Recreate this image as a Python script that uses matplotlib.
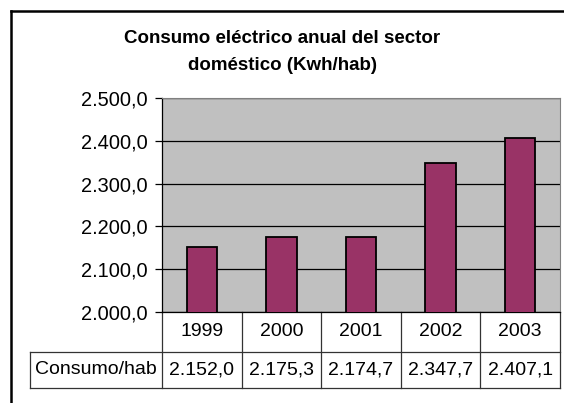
import matplotlib
matplotlib.use("Agg")
import matplotlib.pyplot as plt
from matplotlib.lines import Line2D
from matplotlib.ticker import FuncFormatter, MultipleLocator
from matplotlib.transforms import blended_transform_factory

plt.rcParams['font.family'] = ['Liberation Sans', 'DejaVu Sans']

years = ['1999', '2000', '2001', '2002', '2003']
consumo = [2152.0, 2175.3, 2174.7, 2347.7, 2407.1]
row_label = 'Consumo/hab'
title = 'Consumo eléctrico anual del sector\ndoméstico (Kwh/hab)'


def es_num(v, pos=None):
    # 2152.0 -> "2.152,0"
    s = f"{v:,.1f}"
    return s.replace(',', 'X').replace('.', ',').replace('X', '.')


W, H = 564, 403
fig = plt.figure(figsize=(W / 100, H / 100), dpi=100)

# plot area in pixels
left, right, top, bottom = 162, 560, 98, 312
ax = fig.add_axes([left / W, 1 - bottom / H, (right - left) / W, (bottom - top) / H])
ax.set_facecolor('#C0C0C0')

x = list(range(len(years)))
ax.bar(x, consumo, width=0.38, color='#993366', edgecolor='black', linewidth=1.3, zorder=3)

ax.set_xlim(-0.5, len(years) - 0.5)
ax.set_ylim(2000, 2500)
ax.yaxis.set_major_locator(MultipleLocator(100))
ax.yaxis.set_major_formatter(FuncFormatter(es_num))
ax.grid(axis='y', color='black', linewidth=0.9, zorder=1)
ax.tick_params(axis='y', labelsize=14.4, length=5, width=0.9, pad=5)
ax.set_xticks([])
for side in ['top', 'right']:
    ax.spines[side].set_color('#808080')
ax.spines['left'].set_linewidth(0.9)
ax.spines['bottom'].set_linewidth(0.9)

# data table under the plot
ph = bottom - top
row1 = -40 / ph
row2 = -76 / ph
cat_w = (right - left) / len(years)
label_left = -0.5 - (left - 30) / cat_w
tr = blended_transform_factory(ax.transData, ax.transAxes)
lc = '#333333'
lw = 0.9

for i in range(len(years) + 1):
    ax.add_line(Line2D([i - 0.5, i - 0.5], [0, row2], transform=tr, color=lc, lw=lw, clip_on=False))
ax.add_line(Line2D([label_left, len(years) - 0.5], [row1, row1], transform=tr, color=lc, lw=lw, clip_on=False))
ax.add_line(Line2D([label_left, len(years) - 0.5], [row2, row2], transform=tr, color=lc, lw=lw, clip_on=False))
ax.add_line(Line2D([label_left, label_left], [row1, row2], transform=tr, color=lc, lw=lw, clip_on=False))

for i, (yr, v) in enumerate(zip(years, consumo)):
    ax.text(i, row1 / 2, yr, transform=tr, ha='center', va='center', fontsize=14)
    ax.text(i, (row1 + row2) / 2, es_num(v), transform=tr, ha='center', va='center', fontsize=14)
ax.text((label_left - 0.5) / 2, (row1 + row2) / 2, row_label, transform=tr,
        ha='center', va='center', fontsize=14)

# title
fig.text(282 / W, 1 - 52 / H, title, ha='center', va='center', fontsize=13.5,
         fontweight='bold', linespacing=1.8)

# chart border (right and bottom edges fall outside the image)
fig.add_artist(Line2D([11 / W, 1.01], [1 - 11 / H, 1 - 11 / H], transform=fig.transFigure, color='black', lw=1.8))
fig.add_artist(Line2D([11 / W, 11 / W], [1 - 11 / H, -0.01], transform=fig.transFigure, color='black', lw=1.8))

fig.savefig('out.png', dpi=100)
